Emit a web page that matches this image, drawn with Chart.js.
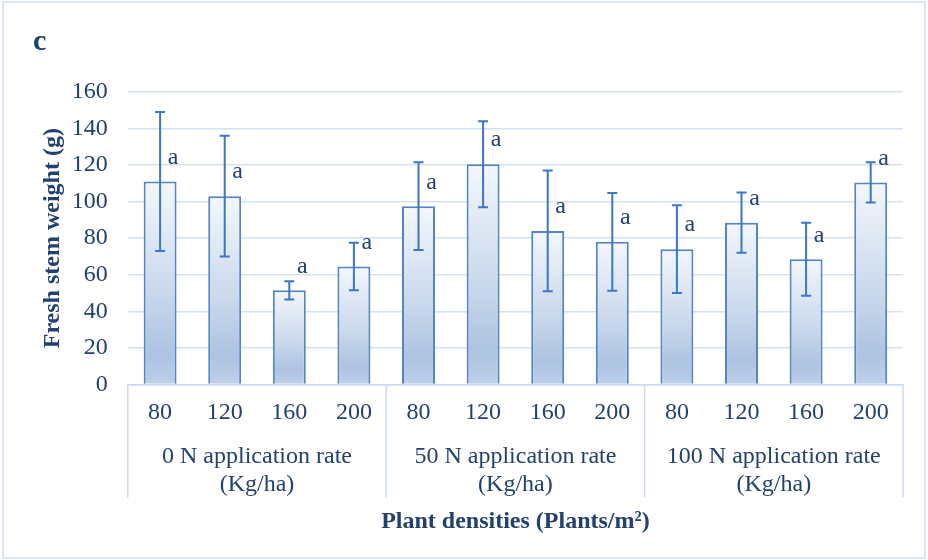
<!DOCTYPE html>
<html>
<head>
<meta charset="utf-8">
<script src="https://cdn.jsdelivr.net/npm/chart.js@4/dist/chart.umd.min.js"></script>
<style>
  html, body { margin: 0; padding: 0; background: #fff; }
  #wrap { width: 928px; height: 560px; position: relative; }
</style>
</head>
<body>
<div id="wrap"><canvas id="chart"></canvas></div>
<script>
const densities = ['80', '120', '160', '200', '80', '120', '160', '200', '80', '120', '160', '200'];
const groups = [['0 N application rate', '(Kg/ha)'], ['50 N application rate', '(Kg/ha)'], ['100 N application rate', '(Kg/ha)']];
const stemWeight = [111, 103, 51.5, 64.5, 97.5, 120.5, 84, 78, 74, 88.5, 68.5, 110.5];
const stemError = [38, 33, 5, 13, 24, 23.5, 33, 26.7, 24, 16.5, 20, 11];
const letters = ['a', 'a', 'a', 'a', 'a', 'a', 'a', 'a', 'a', 'a', 'a', 'a'];
const yTicks = [0, 20, 40, 60, 80, 100, 120, 140, 160];
const panelLabel = 'c';

const textColor = '#23416E';
const serif = "'Liberation Serif', 'Times New Roman', serif";

const barFill = (ctx) => {
    const chart = ctx.chart;
    if (!chart.chartArea) return '#C5D6EC';
    const y = chart.scales.y;
    const top = y.getPixelForValue(stemWeight[ctx.dataIndex]);
    const bot = y.getPixelForValue(0);
    const g = chart.ctx.createLinearGradient(0, top, 0, bot);
    g.addColorStop(0, '#F4F7FC');
    g.addColorStop(0.55, '#C9D8EC');
    g.addColorStop(0.85, '#ADC3E1');
    g.addColorStop(1, '#BDD0E9');
    return g;
};

// frame, panel letter, error bars, letters and group separators
const extras = {
    id: 'extras',
    beforeDraw(chart) {
        const c = chart.ctx;
        c.save();
        c.strokeStyle = '#D3E0F1';
        c.lineWidth = 1.5;
        c.strokeRect(3, 2, chart.width - 6, chart.height - 4);
        c.fillStyle = textColor;
        c.font = 'bold 30px ' + serif;
        c.textBaseline = 'middle';
        c.fillText(panelLabel, 33, 42);
        c.restore();
    },
    afterDatasetsDraw(chart) {
        const c = chart.ctx;
        const y = chart.scales.y;
        const meta = chart.getDatasetMeta(0);
        c.save();
        c.strokeStyle = '#3A77C7';
        c.lineWidth = 2;
        meta.data.forEach((bar, i) => {
            const top = y.getPixelForValue(stemWeight[i] + stemError[i]);
            const bot = y.getPixelForValue(stemWeight[i] - stemError[i]);
            c.beginPath();
            c.moveTo(bar.x, top); c.lineTo(bar.x, bot);
            c.moveTo(bar.x - 5, top); c.lineTo(bar.x + 5, top);
            c.moveTo(bar.x - 5, bot); c.lineTo(bar.x + 5, bot);
            c.stroke();
        });
        c.fillStyle = textColor;
        c.font = '24px ' + serif;
        c.textAlign = 'center';
        c.textBaseline = 'middle';
        meta.data.forEach((bar, i) => {
            c.fillText(letters[i], bar.x + 13, bar.y - 24);
        });

        // separators between N rate groups
        const x = chart.scales.x;
        const bottom = chart.chartArea.bottom;
        c.strokeStyle = '#CCDCEF';
        c.lineWidth = 1.5;
        const edges = [x.left];
        for (let i = 4; i < densities.length; i += 4) {
            edges.push((x.getPixelForValue(i - 1) + x.getPixelForValue(i)) / 2);
        }
        edges.push(x.right);
        edges.forEach(px => {
            c.beginPath();
            c.moveTo(px, bottom);
            c.lineTo(px, bottom + 113);
            c.stroke();
        });
        c.restore();
    }
};

new Chart(document.getElementById('chart'), {
    type: 'bar',
    data: {
        labels: densities,
        datasets: [{
            data: stemWeight,
            backgroundColor: barFill,
            borderColor: '#5384C4',
            borderWidth: 2,
            borderSkipped: 'bottom',
            barPercentage: 0.51,
            categoryPercentage: 1
        }]
    },
    options: {
        responsive: true,
        maintainAspectRatio: false,
        animation: false,
        layout: { padding: { left: 38, right: 25, top: 92, bottom: 24 } },
        plugins: {
            legend: { display: false },
            tooltip: { enabled: false },
            title: { display: false }
        },
        scales: {
            x: {
                grid: { display: false, drawTicks: false },
                border: { display: true, color: '#CCDCEF', width: 1.5 },
                ticks: {
                    color: textColor,
                    font: { family: serif, size: 24 },
                    padding: 14,
                    maxRotation: 0,
                    autoSkip: false
                }
            },
            x2: {
                type: 'category',
                position: 'bottom',
                labels: groups,
                offset: true,
                grid: { display: false, drawTicks: false },
                border: { display: false },
                ticks: {
                    color: textColor,
                    font: { family: serif, size: 24, lineHeight: 1.167 },
                    padding: 2,
                    maxRotation: 0,
                    autoSkip: false
                },
                title: {
                    display: true,
                    text: 'Plant densities (Plants/m²)',
                    color: textColor,
                    font: { family: serif, size: 24, weight: 'bold' },
                    padding: { top: 6, bottom: 0 }
                }
            },
            y: {
                min: 0,
                max: 160,
                afterBuildTicks(axis) {
                    axis.ticks = yTicks.map(v => ({ value: v }));
                },
                grid: { color: '#D5E2F2', lineWidth: 1.5, drawTicks: false },
                border: { display: false },
                ticks: {
                    color: textColor,
                    font: { family: serif, size: 24 },
                    padding: 20
                },
                title: {
                    display: true,
                    text: 'Fresh stem weight (g)',
                    color: textColor,
                    font: { family: serif, size: 24, weight: 'bold' },
                    padding: { top: 0, bottom: -15 }
                }
            }
        }
    },
    plugins: [extras]
});
</script>
</body>
</html>
